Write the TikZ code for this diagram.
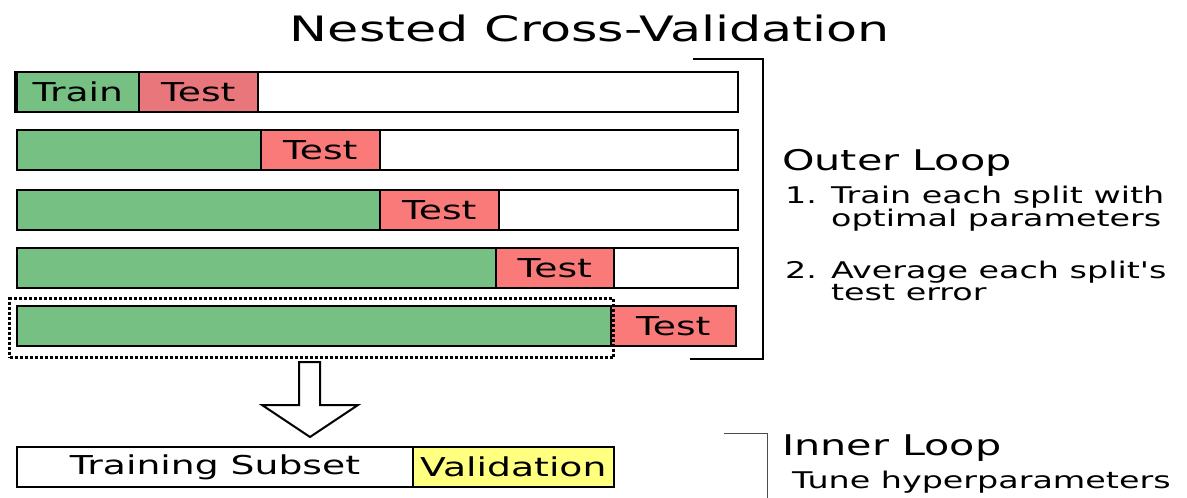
\documentclass[tikz,border=0pt]{standalone}
\usepackage{fontspec}
\setmainfont[FakeStretch=1.45]{DejaVu Sans}
\newfontfamily\plainfam[FakeStretch=1.45]{DejaVu Sans}
\usetikzlibrary{positioning}
\definecolor{trainclr}{RGB}{118,192,131}
\definecolor{testclr}{RGB}{250,122,122}
\definecolor{testdark}{RGB}{233,118,122}
\definecolor{valclr}{RGB}{255,255,128}
\begin{document}
\begin{tikzpicture}[x=1pt,y=-1pt,
	seg/.style={draw=black,line width=1.6pt,minimum height=40pt,inner sep=0pt,anchor=west,font=\fontsize{26}{28}\selectfont},
	trainseg/.style={seg,fill=trainclr},
	testseg/.style={seg,fill=testclr},
	restseg/.style={seg,fill=white,line width=2pt},
	side/.style={anchor=west,align=left,inner sep=0pt,font=\plainfam\fontsize{23}{22}\selectfont},
	head/.style={anchor=west,inner sep=0pt,font=\fontsize{28.5}{30}\selectfont}]
	\useasboundingbox (0,0) rectangle (1187,498);

	%title
	\node (title) at (590,28) {\fontsize{35}{38}\selectfont Nested Cross-Validation};

	%outer splits
	\node[restseg,minimum width=721pt] (r1) at (16,92) {};
	\node[trainseg,minimum width=122pt] (r1train) at (16,92) {Train};
	\node[testseg,fill=testdark,minimum width=119pt] (r1test) at (138,92) {Test};

	\node[restseg,minimum width=721pt] (r2) at (16,150) {};
	\node[trainseg,minimum width=244pt] (r2train) at (16,150) {};
	\node[testseg,minimum width=119pt] (r2test) at (260,150) {Test};

	\node[restseg,minimum width=721pt] (r3) at (16,210) {};
	\node[trainseg,minimum width=363pt] (r3train) at (16,210) {};
	\node[testseg,minimum width=119pt] (r3test) at (379,210) {Test};

	\node[restseg,minimum width=721pt] (r4) at (16,268) {};
	\node[trainseg,minimum width=479pt] (r4train) at (16,268) {};
	\node[testseg,minimum width=118pt] (r4test) at (495,268) {Test};

	\node[trainseg,minimum width=594pt] (r5train) at (16,326) {};
	\node[testseg,minimum width=125pt] (r5test) at (610,326) {Test};

	%thick left edge of first row
	\draw[line width=3.5pt] (r1.north west) -- (r1.south west);

	%selected split
	\node[draw,dotted,line width=3pt,minimum width=604pt,minimum height=59pt,inner sep=0pt,anchor=north west] (pick) at (8,297) {};

	%outer bracket
	\coordinate (ob1) at (693,59);
	\coordinate (ob2) at (690,359);
	\draw[line width=2.5pt] (ob1) -- (763,59) -- (763,359) -- (ob2);

	%outer loop text
	\node[head] (outer) at (782,163) {Outer Loop};
	\node[side] (step1) at (785,209) {1. Train each split with\\\hphantom{1. }optimal parameters};
	\node[side] (step2) at (785,281) {2. Average each split's\\\hphantom{2. }test error};

	%hollow arrow
	\draw[line width=2pt,fill=white] (299,362) -- (320,362) -- (320,405) -- (358,405) -- (310,437) -- (262,405) -- (299,405) -- cycle;

	%inner split
	\node[restseg,minimum width=396pt] (sub) at (16,467) {Training Subset};
	\node[seg,fill=valclr,minimum width=201pt] (val) at (412,467) {Validation};

	%inner bracket
	\coordinate (ib1) at (724,433);
	\coordinate (ib2) at (767,498);
	\draw[line width=1pt,black!70] (ib1) -| (ib2);

	%inner loop text
	\node[head] (inner) at (782,448) {Inner Loop};
	\node[side] (tune) at (792,482) {Tune hyperparameters};
\end{tikzpicture}
\end{document}
